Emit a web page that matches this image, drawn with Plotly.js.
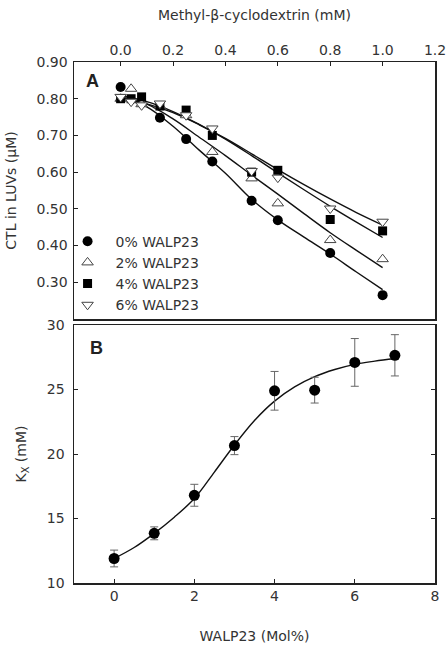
<!DOCTYPE html>
<html>
<head>
<meta charset="utf-8">
<script src="https://cdn.plot.ly/plotly-3.0.1.min.js"></script>
<style>html,body{margin:0;padding:0;background:#fff;}#chart{width:447px;height:648px;}</style>
</head>
<body>
<div id="chart"></div>
<script>
// ---- Panel A: CTL in LUVs vs methyl-beta-cyclodextrin (mM) ----
var mbcdX = [0, 0.04, 0.08, 0.15, 0.25, 0.35, 0.5, 0.6, 0.8, 1.0];
var mbcdX0 = [0, 0.15, 0.25, 0.35, 0.5, 0.6, 0.8, 1.0];
var ctl0 = [0.832, 0.748, 0.690, 0.629, 0.522, 0.469, 0.380, 0.265];
var ctl2 = [0.800, 0.827, 0.785, 0.780, 0.755, 0.655, 0.583, 0.515, 0.415, 0.363];
var ctl4 = [0.800, 0.800, 0.805, 0.780, 0.769, 0.700, 0.600, 0.605, 0.471, 0.440];
var ctl6 = [0.805, 0.792, 0.782, 0.787, 0.755, 0.719, 0.603, 0.585, 0.501, 0.465];

// fitted curves
var fitX = [0, 0.1, 0.2, 0.3, 0.4, 0.5, 0.6, 0.7, 0.8, 0.9, 1.0];
var fit0 = [0.805, 0.778, 0.725, 0.660, 0.597, 0.526, 0.470, 0.423, 0.377, 0.328, 0.280];
var fit2 = [0.805, 0.785, 0.745, 0.695, 0.645, 0.592, 0.540, 0.487, 0.435, 0.387, 0.340];
var fit4 = [0.808, 0.792, 0.765, 0.730, 0.690, 0.645, 0.598, 0.552, 0.507, 0.464, 0.422];
var fit6 = [0.800, 0.786, 0.762, 0.729, 0.692, 0.650, 0.607, 0.566, 0.527, 0.490, 0.456];

var seriesNames = ["0% WALP23", "2% WALP23", "4% WALP23", "6% WALP23"];

// ---- Panel B: Kx vs WALP23 (mol%) ----
var walp = [0, 1, 2, 3, 4, 5, 6, 7];
var kx = [11.9, 13.85, 16.8, 20.65, 24.9, 24.95, 27.1, 27.65];
var kxErr = [0.65, 0.5, 0.85, 0.7, 1.5, 1.0, 1.85, 1.6];
var kxFitX = [0, 0.5, 1, 1.5, 2, 2.5, 3, 3.5, 4, 4.5, 5, 5.5, 6, 6.5, 7];
var kxFitY = [11.9, 12.75, 13.85, 15.1, 16.55, 18.6, 20.7, 22.6, 24.1, 25.2, 26.0, 26.55, 26.95, 27.2, 27.4];

var lineStyle = {color: '#111', width: 1.4, shape: 'spline'};
var traces = [];
[fit0, fit2, fit4, fit6].forEach(function (f) {
  traces.push({x: fitX, y: f, xaxis: 'x2', yaxis: 'y2', mode: 'lines',
    line: lineStyle, showlegend: false, hoverinfo: 'skip'});
});
traces.push({x: mbcdX0, y: ctl0, xaxis: 'x2', yaxis: 'y2', mode: 'markers', name: seriesNames[0],
  marker: {symbol: 'circle', size: 10, color: '#000'}});
traces.push({x: mbcdX, y: ctl2, xaxis: 'x2', yaxis: 'y2', mode: 'markers', name: seriesNames[1],
  marker: {symbol: 'triangle-up', size: 10, color: '#fff', line: {color: '#444', width: 1}}});
traces.push({x: mbcdX, y: ctl4, xaxis: 'x2', yaxis: 'y2', mode: 'markers', name: seriesNames[2],
  marker: {symbol: 'square', size: 9, color: '#000'}});
traces.push({x: mbcdX, y: ctl6, xaxis: 'x2', yaxis: 'y2', mode: 'markers', name: seriesNames[3],
  marker: {symbol: 'triangle-down', size: 10, color: '#fff', line: {color: '#444', width: 1}}});

traces.push({x: kxFitX, y: kxFitY, xaxis: 'x', yaxis: 'y', mode: 'lines',
  line: lineStyle, showlegend: false, hoverinfo: 'skip'});
traces.push({x: walp, y: kx, xaxis: 'x', yaxis: 'y', mode: 'markers', showlegend: false,
  marker: {symbol: 'circle', size: 11, color: '#000'},
  error_y: {type: 'data', array: kxErr, visible: true, color: '#666', thickness: 1, width: 4}});

var fontFam = 'DejaVu Sans, Liberation Sans, Arial, sans-serif';
var txtColor = '#333';
var titleFont = {family: fontFam, size: 14, color: txtColor};
var axBase = {
  showgrid: false, zeroline: false, showline: true, linecolor: '#222', linewidth: 1.5,
  ticks: 'inside', ticklen: 4, tickcolor: '#222', tickwidth: 1,
  tickfont: {family: fontFam, size: 14, color: txtColor}
};
function ax(o) { return Object.assign({}, axBase, o); }

var layout = {
  width: 447, height: 648,
  margin: {l: 74, r: 12, t: 62, b: 65},
  paper_bgcolor: '#fff', plot_bgcolor: '#fff',
  font: {family: fontFam, size: 14, color: txtColor},
  showlegend: true,
  legend: {x: -0.04, y: 0.686, xanchor: 'left', yanchor: 'top', itemwidth: 46,
    bgcolor: 'rgba(0,0,0,0)', font: {family: fontFam, size: 14, color: txtColor},
    tracegroupgap: 0},
  xaxis: ax({domain: [0, 1], anchor: 'y', range: [-1, 8], tickvals: [0, 2, 4, 6, 8], mirror: true,
    title: {text: 'WALP23 (Mol%)', font: titleFont, standoff: 28}}),
  yaxis: ax({domain: [0, 0.4952], anchor: 'x', range: [10, 30], tickvals: [10, 15, 20, 25, 30], mirror: 'ticks',
    ticklabelstandoff: 5,
    title: {text: 'K<sub>X</sub> (mM)', font: titleFont, standoff: 17}}),
  xaxis2: ax({anchor: 'y2', side: 'top', range: [-0.178, 1.2], tickvals: [0, 0.2, 0.4, 0.6, 0.8, 1.0, 1.2],
    tickformat: '.1f', mirror: true,
    title: {text: 'Methyl-β-cyclodextrin (mM)', font: titleFont, standoff: 18}}),
  yaxis2: ax({domain: [0.5067, 1], anchor: 'x2', range: [0.2, 0.9], tickvals: [0.3, 0.4, 0.5, 0.6, 0.7, 0.8, 0.9],
    tickformat: '.2f', mirror: true, ticklabelstandoff: 2,
    title: {text: 'CTL in LUVs (μM)', font: titleFont, standoff: 16}}),
  annotations: [
    {text: '<b>A</b>', xref: 'x2 domain', yref: 'y2 domain', x: 0.052, y: 0.925, xanchor: 'center', yanchor: 'middle',
      showarrow: false, font: {family: 'Liberation Sans, Arial, sans-serif', size: 18, color: '#222'}},
    {text: '<b>B</b>', xref: 'x domain', yref: 'y domain', x: 0.063, y: 0.91, xanchor: 'center', yanchor: 'middle',
      showarrow: false, font: {family: 'Liberation Sans, Arial, sans-serif', size: 18, color: '#222'}}
  ]
};

Plotly.newPlot('chart', traces, layout, {displayModeBar: false, staticPlot: true});
</script>
</body>
</html>
